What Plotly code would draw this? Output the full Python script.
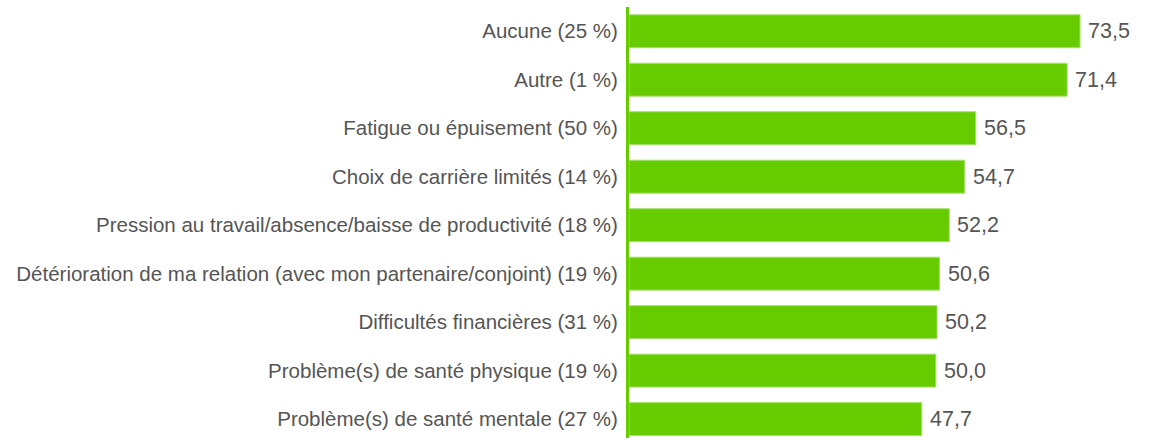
import plotly.graph_objects as go

categories = [
    "Aucune (25 %)",
    "Autre (1 %)",
    "Fatigue ou épuisement (50 %)",
    "Choix de carrière limités (14 %)",
    "Pression au travail/absence/baisse de productivité (18 %)",
    "Détérioration de ma relation (avec mon partenaire/conjoint) (19 %)",
    "Difficultés financières (31 %)",
    "Problème(s) de santé physique (19 %)",
    "Problème(s) de santé mentale (27 %)",
]
values = [73.5, 71.4, 56.5, 54.7, 52.2, 50.6, 50.2, 50.0, 47.7]
value_labels = [f"{v:.1f}".replace(".", ",") for v in values]

GREEN = "#66cc00"
TEXT = "#555555"
FONT = "Liberation Sans, Arial, sans-serif"

fig = go.Figure(go.Bar(
    y=categories, x=values, orientation="h",
    marker=dict(color=GREEN, line=dict(color="#a8e070", width=1)),
    width=0.68,
    hoverinfo="skip",
))

for c, v, t in zip(categories, values, value_labels):
    fig.add_annotation(x=v, y=c, text=t, showarrow=False, xanchor="left",
                       xshift=6, font=dict(size=21.5, color=TEXT, family=FONT))

fig.update_layout(
    width=1150, height=438,
    margin=dict(l=629, r=0, t=7, b=0),
    paper_bgcolor="white", plot_bgcolor="white",
    showlegend=False,
    font=dict(family=FONT, size=20.5, color=TEXT),
    xaxis=dict(range=[0, 84.9], showgrid=False, zeroline=False,
               showticklabels=False, showline=False),
    yaxis=dict(range=[8.39, -0.5], showgrid=False, zeroline=False,
               showline=True, linecolor=GREEN, linewidth=3,
               ticks="", ticklabelstandoff=4,
               tickfont=dict(size=20.5, color=TEXT, family=FONT)),
)

fig.write_html("out.html", config={"displayModeBar": False},
               post_script="document.body.style.margin='0';document.body.style.padding='0';")
